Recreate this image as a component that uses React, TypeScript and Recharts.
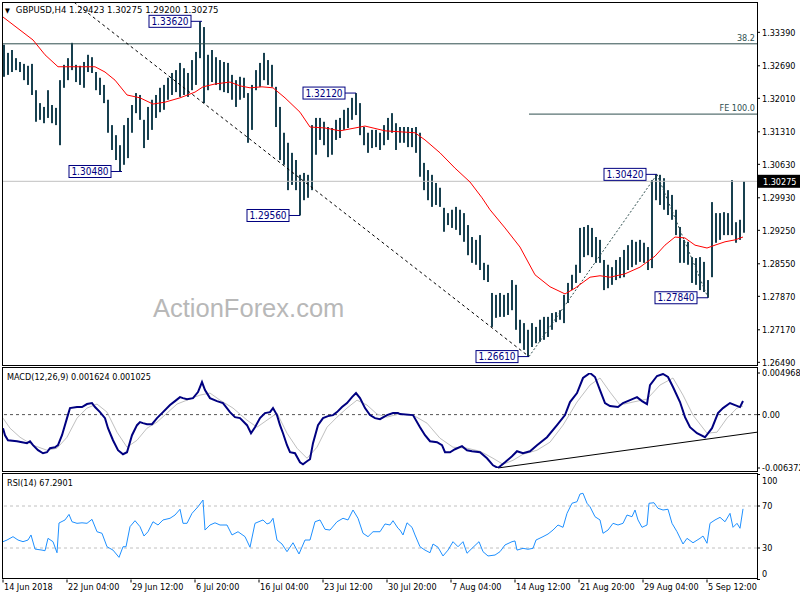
import React from "react";
import { ComposedChart, Bar, Line, XAxis, YAxis, ReferenceLine, ReferenceDot } from "recharts";

const FONT = '"DejaVu Sans Condensed", "DejaVu Sans", sans-serif';
const BAR_COLOR = "#18404f";
const NAVY = "#000080";
const SLATE = "#2f4f4f";

// H4 bars, two bars per bucket (high / low)
const highs = [
  1.3313, 1.3296, 1.3302, 1.3285, 1.3277, 1.3273, 1.3269, 1.3273, 1.3218, 1.3191,
  1.3183, 1.3218, 1.3187, 1.3181, 1.3239, 1.3271, 1.3285, 1.3317, 1.3271, 1.3269,
  1.3277, 1.3292, 1.3287, 1.3256, 1.3244, 1.3229, 1.3198, 1.3145, 1.3124, 1.3103,
  1.3145, 1.316, 1.3187, 1.3212, 1.3208, 1.3156, 1.3183, 1.3198, 1.3208, 1.3223,
  1.3229, 1.3244, 1.3254, 1.326, 1.3275, 1.3264, 1.3254, 1.3281, 1.3298, 1.3362,
  1.335, 1.3292, 1.3302, 1.3287, 1.3281, 1.3277, 1.3275, 1.325, 1.3239, 1.3246,
  1.3244, 1.3212, 1.3229, 1.326, 1.3275, 1.3296, 1.3281, 1.3271, 1.3225, 1.3183,
  1.3129, 1.3108, 1.3087, 1.3072, 1.3041, 1.3045, 1.3041, 1.3145, 1.316, 1.316,
  1.3152, 1.3141, 1.3139, 1.3156, 1.316, 1.3177, 1.3181, 1.3202, 1.3212, 1.3191,
  1.3141, 1.3129, 1.3135, 1.3135, 1.3129, 1.3145, 1.316, 1.317, 1.3149, 1.3141,
  1.3141, 1.3141, 1.3139, 1.3141, 1.3129, 1.3066, 1.3051, 1.3041, 1.3024, 1.3014,
  1.2972, 1.2961, 1.2968, 1.2974, 1.2968, 1.2961, 1.2936, 1.2911, 1.2905, 1.2915,
  1.2857, 1.2853, 1.2794, 1.279, 1.2794, 1.279, 1.2794, 1.2821, 1.2811, 1.2738,
  1.2731, 1.2717, 1.2731, 1.2723, 1.2738, 1.2744, 1.2744, 1.2752, 1.2754, 1.2758,
  1.279, 1.2815, 1.2832, 1.2853, 1.293, 1.2932, 1.2936, 1.293, 1.2911, 1.2905,
  1.2863, 1.2853, 1.2848, 1.2863, 1.2869, 1.2884, 1.2894, 1.2905, 1.2901, 1.2905,
  1.2899, 1.289, 1.303, 1.3042, 1.3041, 1.3034, 1.3009, 1.2999, 1.2968, 1.2932,
  1.2905, 1.2901, 1.2869, 1.2867, 1.2869, 1.2859, 1.2821, 1.2984, 1.2961, 1.2961,
  1.2963, 1.2961, 1.303, 1.2942, 1.2947, 1.30275,
];
const lows = [
  1.3246, 1.325, 1.3256, 1.326, 1.3256, 1.3239, 1.3229, 1.3208, 1.3152, 1.3156,
  1.3149, 1.316, 1.3149, 1.3145, 1.3103, 1.3223, 1.3239, 1.326, 1.3235, 1.3229,
  1.3223, 1.3256, 1.3254, 1.3218, 1.3208, 1.3191, 1.3129, 1.3093, 1.3072, 1.3048,
  1.3062, 1.3076, 1.3129, 1.317, 1.3156, 1.3097, 1.3114, 1.3135, 1.316, 1.3172,
  1.3177, 1.3198, 1.3208, 1.3214, 1.3204, 1.3208, 1.3204, 1.3218, 1.3229, 1.3285,
  1.3191, 1.3218, 1.3235, 1.3229, 1.3218, 1.3214, 1.3212, 1.3198, 1.3183, 1.3198,
  1.3202, 1.3108, 1.3135, 1.3218, 1.3225, 1.3239, 1.3229, 1.3225, 1.3141, 1.3072,
  1.3062, 1.3009, 1.302, 1.3009, 1.2956, 1.2988, 1.2993, 1.3009, 1.3083, 1.3114,
  1.3103, 1.3078, 1.3083, 1.3114, 1.3118, 1.3135, 1.3139, 1.3156, 1.3166, 1.3124,
  1.3103, 1.3087, 1.3097, 1.3099, 1.3093, 1.3103, 1.3114, 1.3129, 1.3093, 1.3108,
  1.3108, 1.3099, 1.3099, 1.3087, 1.3037, 1.3009, 1.2988, 1.2974, 1.2978, 1.2974,
  1.2922, 1.2936, 1.293, 1.2926, 1.2915, 1.2901, 1.2873, 1.2857, 1.2853, 1.2842,
  1.2821, 1.2817, 1.2723, 1.2742, 1.2744, 1.2744, 1.2748, 1.2758, 1.2717, 1.2689,
  1.2675, 1.2661, 1.2681, 1.2689, 1.2692, 1.2696, 1.2702, 1.2717, 1.2733, 1.2738,
  1.2731, 1.2773, 1.28, 1.2815, 1.2836, 1.2869, 1.2873, 1.2869, 1.2857, 1.2857,
  1.28, 1.2804, 1.2811, 1.2821, 1.2825, 1.2827, 1.2842, 1.2848, 1.2853, 1.2859,
  1.2857, 1.2842, 1.2846, 1.2988, 1.2978, 1.2968, 1.2957, 1.2947, 1.2915, 1.2857,
  1.2857, 1.2853, 1.2815, 1.2811, 1.28, 1.2796, 1.2784, 1.2827, 1.2899, 1.2905,
  1.2915, 1.2915, 1.2915, 1.2899, 1.2905, 1.292,
];

// [bar index, value]
const maPts: [number, number][] = [
  [0, 1.3371], [15, 1.3323], [21, 1.3292], [27.5, 1.3267], [36, 1.3267], [46, 1.3267],
  [51, 1.3256], [56, 1.3239], [62, 1.3208], [68.5, 1.3202], [75, 1.3189], [81, 1.3193],
  [88.5, 1.3202], [96, 1.3214], [100, 1.3225], [106, 1.3231], [113.5, 1.3235], [118.5, 1.3227],
  [123.5, 1.3223], [129.5, 1.3225], [135, 1.3223], [141, 1.3202], [148.5, 1.3172], [153.5, 1.3141],
  [161, 1.3139], [168.5, 1.3133], [176, 1.3139], [181, 1.3143], [191, 1.3133], [198.5, 1.3131],
  [206, 1.3129], [211, 1.3114], [218.5, 1.3087], [226, 1.3055], [233.5, 1.3026], [239.5, 1.2993],
  [243.5, 1.2968], [251, 1.293], [258.5, 1.289], [266, 1.2832], [273.5, 1.2807], [281, 1.2792],
  [286, 1.2804], [293.5, 1.2827], [298.5, 1.283], [303.5, 1.2827], [311, 1.2834], [318.5, 1.2848],
  [326, 1.2871], [331, 1.2894], [336, 1.2911], [341, 1.2909], [346, 1.2894], [352, 1.2888],
  [356, 1.2894], [361, 1.2901], [366, 1.2905], [370, 1.2911],
];

const macdPts: [number, number][] = [
  [0, -0.00162], [1, -0.00246], [2.5, -0.00306], [7, -0.00318], [9.5, -0.00329], [12, -0.00341],
  [13.5, -0.00318], [15, -0.00365], [17.5, -0.00425], [20, -0.00461], [22, -0.00449], [23.5, -0.00401],
  [26, -0.00389], [27.5, -0.00365], [29.5, -0.00246], [32, -0.00042], [33.5, 0.00078], [37, 0.0009],
  [39.5, 0.0009], [42, 0.00126], [44.5, 0.00138], [46, 0.0009], [48.5, 0.0003], [51, -0.00042],
  [52.5, -0.00162], [55, -0.00306], [57.5, -0.00425], [60, -0.00473], [62, -0.00449], [64.5, -0.00246],
  [67, -0.00126], [68.5, -0.0009], [70, -0.00102], [72, -0.00114], [74.5, -0.00114], [77, -0.00042],
  [80, 0.0003], [83.5, 0.00114], [86, 0.00161], [88.5, 0.00209], [90, 0.00197], [92, 0.00185],
  [95, 0.00197], [97.5, 0.00269], [99.5, 0.00389], [101, 0.00293], [103.5, 0.00197], [107, 0.00161],
  [110, 0.00138], [113.5, 0.0003], [116, -0.0003], [118.5, -0.00042], [122, -0.00126], [124, -0.00222],
  [126, -0.0015], [128.5, -0.00042], [131, 0.00018], [133.5, 0.0003], [135, 0.00078], [137, -0.00006],
  [138.5, -0.00126], [140, -0.00222], [142, -0.00365], [143.5, -0.00449], [146, -0.00461], [148.5, -0.00569],
  [150, -0.00593], [152, -0.00557], [153.5, -0.00533], [155, -0.00341], [157.5, -0.00126], [160, -0.00042],
  [162.5, -0.00018], [165, -0.00006], [167, 0.0003], [169.5, 0.0009], [172, 0.00138], [174.5, 0.00209],
  [176.5, 0.00257], [178.5, 0.00197], [181, 0.00078], [183.5, -0.00006], [186, -0.00042], [188.5, -0.00054],
  [192, -0.00006], [195, 0.00018], [197.5, 0.00018], [198.5, 0.00006], [205, -0.00006], [208.5, -0.0015],
  [211, -0.00246], [213.5, -0.00318], [217, -0.00329], [219.5, -0.00365], [221, -0.00449], [223.5, -0.00449],
  [226, -0.00413], [229.5, -0.00377], [232, -0.00425], [234.5, -0.00437], [238.5, -0.00449], [242, -0.00521],
  [245, -0.00605], [247.5, -0.00637], [251, -0.00569], [254.5, -0.00497], [257, -0.00437], [260, -0.00461],
  [263.5, -0.00437], [267, -0.00365], [272, -0.0027], [277, -0.00126], [281, -0.00006], [283.5, 0.0015],
  [287, 0.00257], [290, 0.00437], [293.5, 0.00497], [296, 0.00449], [298.5, 0.00293], [301, 0.00138],
  [303.5, 0.00102], [307.5, 0.0009], [310, 0.00138], [313.5, 0.00173], [317, 0.00209], [319.5, 0.00161],
  [322, 0.00126], [323.5, 0.00353], [327, 0.00461], [330, 0.00485], [332.5, 0.00449], [335, 0.00329],
  [338.5, 0.0015], [341, -0.0003], [343.5, -0.0015], [347, -0.00222], [351, -0.0027], [354.5, -0.00162],
  [357.5, 0.00018], [360, 0.00078], [363.5, 0.00138], [366, 0.00114], [368.5, 0.0009], [370, 0.00162],
];

const signalPts: [number, number][] = [
  [0, -0.00042], [3.5, -0.00162], [8.5, -0.0027], [15, -0.00365], [22, -0.00425], [27, -0.00401],
  [32, -0.0027], [37, -0.00042], [42, 0.00078], [47, 0.00126], [52, 0.0003], [57, -0.0021],
  [62, -0.00389], [67, -0.00306], [72, -0.00162], [77, -0.0009], [82, 0.00018], [87, 0.00126],
  [92, 0.00173], [98.5, 0.00233], [103.5, 0.00257], [108.5, 0.00173], [115, 0.00078], [122, -0.00066],
  [127, -0.0015], [132, -0.00066], [137, 0.00018], [142, -0.00222], [147, -0.00401], [152, -0.00521],
  [157, -0.00389], [162, -0.0015], [167, -0.0003], [172, 0.00078], [177, 0.00173], [182, 0.00114],
  [187, 0.00006], [192, -0.0003], [197.5, 0.00006], [205, -0.00006], [212, -0.00102], [218.5, -0.00282],
  [225, -0.00389], [232, -0.00401], [238.5, -0.00437], [245, -0.00521], [250, -0.00593], [255, -0.00545],
  [260, -0.00473], [267, -0.00425], [273.5, -0.00329], [280, -0.00126], [287, 0.0015], [293.5, 0.00353],
  [298.5, 0.00437], [303.5, 0.00269], [308.5, 0.00114], [315, 0.0015], [322, 0.00185], [328.5, 0.00353],
  [335, 0.00437], [340, 0.00233], [345, -0.00006], [352, -0.00222], [357, -0.0021], [362, -0.00042],
  [367, 0.00078], [370, 0.00103],
];

const rsiPts: [number, number][] = [
  [0, 36], [2, 37.6], [5, 40.8], [7.5, 37.6], [10, 36], [12.5, 37.6], [14, 42.4], [16, 29],
  [19.5, 28], [21, 27.4], [22.5, 39.2], [25, 36], [27, 25.5], [28, 53.8], [31, 56.7], [33, 62],
  [34.5, 55], [37, 53.5], [39.5, 54], [42, 53.5], [44.5, 57.3], [47, 45.5], [49.5, 44], [52, 31.2],
  [55, 28], [58, 21.1], [60, 31.2], [61.5, 31.2], [63.5, 50.3], [66, 56], [68.5, 50.3], [70.5, 41.4],
  [72.5, 45.5], [75, 55], [77.5, 51.9], [80, 56.7], [83.5, 58.3], [86, 61.4], [88.5, 66.9], [90, 53.5],
  [92, 53.5], [94.5, 63], [97.5, 69.3], [100, 75.7], [101, 47.1], [103.5, 51.9], [106, 54], [108.5, 51.9],
  [112, 51.9], [114.5, 42.4], [117.5, 45.5], [121, 40.8], [123.5, 30.7], [126, 53.5], [130, 56.7], [132, 52.9],
  [133.5, 54], [135, 58.3], [137, 37.6], [139.5, 33.8], [142, 26.5], [145, 35], [148, 24.3], [151, 37.6],
  [153.5, 37.6], [156, 55], [158.5, 56.7], [161, 47.8], [163.5, 47.1], [167, 55], [170, 58.3], [172.5, 56.7],
  [175, 66.2], [177.5, 58.3], [180, 44], [182.5, 40.8], [185, 45.5], [188.5, 45.5], [191, 52.9], [193.5, 51.9],
  [195, 56], [197.5, 48.8], [198.5, 47.1], [200, 42.4], [202, 54], [204.5, 49.7], [206, 42.4], [208.5, 31.2],
  [211, 28], [213.5, 25.5], [215, 33.8], [217.5, 30.7], [220, 22.4], [222.5, 28], [225, 36], [227.5, 31.2],
  [230, 36], [232, 25], [234.5, 29.7], [238, 36], [240, 26.5], [242.5, 22.4], [246, 23.3], [248.5, 26.5],
  [251, 32.9], [254.5, 36], [256, 36.7], [257, 28], [260, 29.7], [262.5, 28.8], [265, 29.7], [266.5, 37.6],
  [270, 40.8], [272.5, 43.3], [275, 47.1], [277.5, 51.9], [280, 49.7], [282, 63], [284.5, 72.6], [287, 74.1],
  [288.5, 81.4], [290, 82.1], [292, 72.6], [293.5, 69.3], [296, 59.8], [298.5, 56.7], [300, 44], [302.5, 47.1],
  [305, 53.5], [307.5, 51.9], [310, 53.5], [312, 61.4], [314.5, 59.8], [316, 66.2], [317.5, 56.7], [319.5, 49.7],
  [322, 51.9], [323, 72.6], [325.5, 73.1], [327.5, 67.8], [330, 66.2], [332.5, 66.9], [334.5, 53.5], [337, 45.5],
  [340, 33.8], [342, 39.2], [345, 35], [348.5, 39.2], [350, 41.4], [352, 34.5], [353.5, 53.5], [356, 56.7],
  [358.5, 59.2], [361, 55], [363.5, 63], [365, 49.7], [367, 53.5], [368.5, 48.8], [370, 67.29],
];

const timeTicks = [0, 32, 64, 96, 128, 160, 192, 224, 256, 288, 320, 352];
const timeLabels = [
  "14 Jun 2018", "22 Jun 04:00", "29 Jun 12:00", "6 Jul 20:00", "16 Jul 04:00", "23 Jul 12:00",
  "30 Jul 20:00", "7 Aug 04:00", "14 Aug 12:00", "21 Aug 20:00", "29 Aug 04:00", "5 Sep 12:00",
];
const priceTicks = [1.3339, 1.3269, 1.3201, 1.3131, 1.3063, 1.2993, 1.2925, 1.2855, 1.2787, 1.2717, 1.2649];
const macdTicks = [0.004968, 0, -0.006372];
const rsiTicks = [100, 70, 30, 0];

const lastPrice = 1.30275;
const fibo382 = 1.3315;
const fe100 = 1.3168;

const swings = [
  { i: 99.5, p: 1.3362, text: "1.33620" },
  { i: 59.5, p: 1.3048, text: "1.30480" },
  { i: 148.5, p: 1.2956, text: "1.29560" },
  { i: 176.5, p: 1.3212, text: "1.32120" },
  { i: 263, p: 1.2661, text: "1.26610" },
  { i: 327, p: 1.3042, text: "1.30420" },
  { i: 352.5, p: 1.2784, text: "1.27840" },
];

const bars = highs.map((h, j) => ({ i: 2 * j + 0.5, range: [lows[j], h] }));
const toRows = (pts: [number, number][]) => pts.map(([i, v]) => ({ i, v }));

const X_DOMAIN: [number, number] = [-0.5, 377];
const axisText = { fontSize: 9, fill: "#000", fontFamily: FONT };

// high-low stick, centred on the bucket
function Stick(props: any) {
  const { x, y, width, height } = props;
  if (x == null || y == null) return null;
  const cx = Math.round(x + width / 2);
  const top = Math.min(y, y + height);
  return <rect x={cx - 1} y={top} width={2} height={Math.max(1, Math.abs(height))} fill={BAR_COLOR} />;
}

function SwingBox({ cx, cy, text }: any) {
  const w = 42;
  const h = 12;
  const bx = cx - 11 - w;
  return (
    <g>
      <line x1={bx + w} y1={cy} x2={cx} y2={cy} stroke={NAVY} />
      <rect x={bx} y={cy - h / 2} width={w} height={h} fill="#fff" stroke={NAVY} />
      <text x={bx + w / 2} y={cy} dy="0.36em" textAnchor="middle" fontSize={10} fill={NAVY} fontFamily={FONT}>
        {text}
      </text>
    </g>
  );
}

const levelLabel = (text: string) => (props: any) => {
  const vb = props.viewBox;
  return (
    <text x={vb.x + vb.width - 2} y={vb.y - 3} textAnchor="end" fontSize={9} fill={SLATE} fontFamily={FONT}>
      {text}
    </text>
  );
};

const priceTag = (props: any) => {
  const vb = props.viewBox;
  const x = vb.x + vb.width + 1;
  return (
    <g>
      <rect x={x} y={vb.y - 6.5} width={43} height={13} fill="#000" />
      <text x={x + 5} y={vb.y} dy="0.36em" fill="#fff" fontSize={9} fontFamily={FONT}>
        {lastPrice.toFixed(5)}
      </text>
    </g>
  );
};

function TimeTick({ x, y, payload }: any) {
  const k = timeTicks.indexOf(payload.value);
  return (
    <text x={x + 1} y={y} dy="0.71em" fontSize={9} fill="#000" fontFamily={FONT}>
      {timeLabels[k]}
    </text>
  );
}

function RsiTick({ x, y, payload }: any) {
  const shift = payload.value === 100 ? 6 : payload.value === 0 ? -6 : 0;
  return (
    <text x={x} y={y + shift} dy="0.36em" fontSize={9} fill="#000" fontFamily={FONT}>
      {payload.value}
    </text>
  );
}

const frame = (top: number, height: number): React.CSSProperties => ({
  position: "absolute",
  left: 2,
  top,
  width: 756,
  height,
  border: "1px solid #000",
  boxSizing: "border-box",
  pointerEvents: "none",
});

const label = (left: number, top: number, size = 9): React.CSSProperties => ({
  position: "absolute",
  left,
  top,
  fontSize: size,
  lineHeight: "12px",
  fontFamily: FONT,
  color: "#000",
  whiteSpace: "nowrap",
});

export default function App() {
  return (
    <div style={{ position: "absolute", left: 0, top: 0, width: 800, height: 600, background: "#fff", overflow: "hidden" }}>
      <div
        style={{
          position: "absolute",
          left: 153,
          top: 294,
          fontSize: 25.5,
          fontFamily: '"Liberation Sans", Arial, sans-serif',
          color: "#b8b8b8",
          lineHeight: "28px",
        }}
      >
        ActionForex.com
      </div>

      <div style={{ position: "absolute", left: 0, top: 0 }}>
        <ComposedChart width={800} height={367} data={bars} margin={{ top: 2, right: 0, bottom: 2, left: 2 }}>
          <XAxis dataKey="i" type="number" domain={X_DOMAIN} allowDataOverflow hide />
          <YAxis
            orientation="right"
            width={43}
            type="number"
            domain={[1.26434, 1.34024]}
            allowDataOverflow
            ticks={priceTicks}
            interval={0}
            tickFormatter={(v: number) => v.toFixed(5)}
            tick={axisText}
            tickSize={3}
            tickMargin={2}
            axisLine={false}
            tickLine={{ stroke: "#000" }}
          />
          <ReferenceLine y={fibo382} stroke={SLATE} label={levelLabel("38.2")} />
          <ReferenceLine
            segment={[{ x: 263, y: fe100 }, { x: 377, y: fe100 }]}
            stroke={SLATE}
            label={levelLabel("FE 100.0")}
          />
          <ReferenceLine y={lastPrice} stroke="#c0c0c0" label={priceTag} />
          <ReferenceLine segment={[{ x: 35.5, y: 1.3402 }, { x: 263, y: 1.2661 }]} stroke="#000" strokeDasharray="3 3" />
          <ReferenceLine segment={[{ x: 263, y: 1.2661 }, { x: 327, y: 1.3042 }]} stroke={SLATE} strokeDasharray="2 2" />
          <ReferenceLine segment={[{ x: 327, y: 1.3042 }, { x: 352.5, y: 1.2784 }]} stroke={SLATE} strokeDasharray="2 2" />
          <Bar dataKey="range" fill={BAR_COLOR} barSize={2} shape={<Stick />} isAnimationActive={false} />
          <Line
            data={toRows(maPts)}
            dataKey="v"
            stroke="#ff0000"
            strokeWidth={1}
            dot={false}
            isAnimationActive={false}
          />
          {swings.map((s) => (
            <ReferenceDot
              key={s.text}
              x={s.i}
              y={s.p}
              r={0}
              shape={(p: any) => <SwingBox cx={p.cx} cy={p.cy} text={s.text} />}
            />
          ))}
        </ComposedChart>
      </div>

      <div style={{ position: "absolute", left: 0, top: 367 }}>
        <ComposedChart width={800} height={106} margin={{ top: 6, right: 0, bottom: 5, left: 2 }}>
          <XAxis dataKey="i" type="number" domain={X_DOMAIN} allowDataOverflow hide />
          <YAxis
            orientation="right"
            width={43}
            type="number"
            domain={[-0.006372, 0.004968]}
            allowDataOverflow
            ticks={macdTicks}
            interval={0}
            tickFormatter={(v: number) => (v === 0 ? "0.00" : v.toFixed(6))}
            tick={axisText}
            tickSize={3}
            tickMargin={2}
            axisLine={false}
            tickLine={{ stroke: "#000" }}
          />
          <ReferenceLine y={0} stroke="#555" strokeDasharray="3 3" />
          <ReferenceLine segment={[{ x: 247.5, y: -0.00637 }, { x: 377, y: -0.0021 }]} stroke="#000" />
          <Line data={toRows(signalPts)} dataKey="v" stroke="#c0c0c0" strokeWidth={1} dot={false} isAnimationActive={false} />
          <Line data={toRows(macdPts)} dataKey="v" stroke={NAVY} strokeWidth={2} dot={false} isAnimationActive={false} />
        </ComposedChart>
      </div>

      <div style={{ position: "absolute", left: 0, top: 473 }}>
        <ComposedChart width={800} height={127} margin={{ top: 1.5, right: 0, bottom: 0, left: 2 }}>
          <XAxis
            dataKey="i"
            type="number"
            domain={X_DOMAIN}
            allowDataOverflow
            ticks={timeTicks}
            interval={0}
            height={20.5}
            tick={<TimeTick />}
            tickSize={3}
            tickMargin={1}
            axisLine={false}
            tickLine={{ stroke: "#000" }}
          />
          <YAxis
            orientation="right"
            width={43}
            type="number"
            domain={[0, 100]}
            ticks={rsiTicks}
            interval={0}
            tick={<RsiTick />}
            tickSize={3}
            tickMargin={2}
            axisLine={false}
            tickLine={{ stroke: "#000" }}
          />
          <ReferenceLine y={70} stroke="#c0c0c0" strokeDasharray="3 3" />
          <ReferenceLine y={30} stroke="#c0c0c0" strokeDasharray="3 3" />
          <Line data={toRows(rsiPts)} dataKey="v" stroke="#1e90ff" strokeWidth={1} dot={false} isAnimationActive={false} />
        </ComposedChart>
      </div>

      <div style={frame(2, 364)} />
      <div style={frame(367, 105)} />
      <div style={frame(473, 106)} />

      <div style={label(5, 4, 9.5)}>
        <span style={{ fontSize: 7, marginRight: 6 }}>▼</span>GBPUSD,H4 1.29423 1.30275 1.29200 1.30275
      </div>
      <div style={label(7, 371)}>MACD(12,26,9) 0.001624 0.001025</div>
      <div style={label(7, 477)}>RSI(14) 67.2901</div>
    </div>
  );
}
